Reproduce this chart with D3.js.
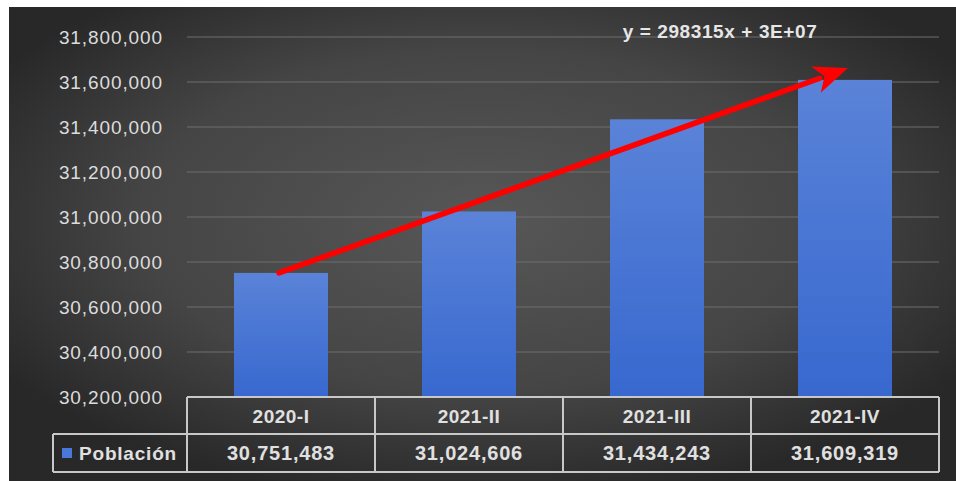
<!DOCTYPE html>
<html>
<head>
<meta charset="utf-8">
<script src="https://cdn.jsdelivr.net/npm/d3@7"></script>
<style>
html,body{margin:0;padding:0;background:#fff;}
svg{display:block;}
</style>
</head>
<body>
<svg id="chart" width="956" height="481"></svg>
<script>
const categories = ["2020-I", "2021-II", "2021-III", "2021-IV"];
const seriesName = "Población";
const values = [30751483, 31024606, 31434243, 31609319];
const yTicks = [30200000, 30400000, 30600000, 30800000, 31000000, 31200000, 31400000, 31600000, 31800000];
const trendStart = {cat: 0, value: 30751483};
const trendEnd = {cat: 3, value: 31662000};
const equationLabel = "y = 298315x + 3E+07";

const svg = d3.select("#chart");
const W = 956, H = 481;
const plot = {left: 187, right: 939, top: 37, bottom: 397};
const font = "'Liberation Sans', Arial, sans-serif";

const defs = svg.append("defs");
const bg = defs.append("radialGradient").attr("id", "bg")
  .attr("cx", "50%").attr("cy", "45%").attr("r", "60%");
bg.append("stop").attr("offset", "0%").attr("stop-color", "#575757");
bg.append("stop").attr("offset", "60%").attr("stop-color", "#454545");
bg.append("stop").attr("offset", "100%").attr("stop-color", "#282828");
const bar = defs.append("linearGradient").attr("id", "bar")
  .attr("x1", 0).attr("y1", 0).attr("x2", 0).attr("y2", 1);
bar.append("stop").attr("offset", "0%").attr("stop-color", "#5a83d8");
bar.append("stop").attr("offset", "100%").attr("stop-color", "#3868cf");

svg.append("rect").attr("x", 9).attr("y", 7).attr("width", W - 9).attr("height", H - 7)
  .attr("fill", "url(#bg)");

const x = d3.scaleBand().domain(categories).range([plot.left, plot.right]).paddingInner(0).paddingOuter(0);
const y = d3.scaleLinear().domain([30200000, 31800000]).range([plot.bottom, plot.top]);

// gridlines
svg.append("g").selectAll("line").data(yTicks).join("line")
  .attr("x1", plot.left).attr("x2", plot.right)
  .attr("y1", d => y(d)).attr("y2", d => y(d))
  .attr("stroke", "#6f6f6f").attr("stroke-width", 1.2);

// y axis labels
const yAxis = d3.axisLeft(y).tickValues(yTicks).tickSize(0).tickPadding(0)
  .tickFormat(d3.format(","));
const ya = svg.append("g").attr("transform", `translate(163,0)`).call(yAxis);
ya.select(".domain").remove();
ya.selectAll("text").attr("fill", "#dcdcdc").style("font-family", font)
  .style("font-size", "19px").style("letter-spacing", "0.9px");

// bars
const bw = x.bandwidth() * 0.5;
svg.append("g").selectAll("rect").data(values).join("rect")
  .attr("x", (d, i) => x(categories[i]) + (x.bandwidth() - bw) / 2)
  .attr("width", bw)
  .attr("y", d => y(d))
  .attr("height", d => y(30200000) - y(d))
  .attr("fill", "url(#bar)");

// trend arrow
const x0 = x(categories[trendStart.cat]) + x.bandwidth() / 2 - 2;
const y0 = y(trendStart.value);
const x1 = x(categories[trendEnd.cat]) + x.bandwidth() / 2 + 3;
const y1 = y(trendEnd.value);
const ang = Math.atan2(y1 - y0, x1 - x0);
const headLen = 34, headW = 14;
const bx = x1 - headLen * Math.cos(ang), by = y1 - headLen * Math.sin(ang);
const px = -Math.sin(ang), py = Math.cos(ang);
svg.append("line").attr("x1", x0).attr("y1", y0).attr("x2", bx + 4 * Math.cos(ang)).attr("y2", by + 4 * Math.sin(ang))
  .attr("stroke", "#ff0000").attr("stroke-width", 5.5).attr("stroke-linecap", "round");
svg.append("path")
  .attr("d", d3.line()([[x1, y1], [bx + headW * px, by + headW * py], [bx + 9 * Math.cos(ang), by + 9 * Math.sin(ang)], [bx - headW * px, by - headW * py]]) + "Z")
  .attr("fill", "#ff0000");

// equation
svg.append("text").attr("x", 720).attr("y", 38).attr("text-anchor", "middle")
  .attr("fill", "#e6e6e6").style("font-family", font).style("font-size", "19px")
  .style("font-weight", "bold").style("letter-spacing", "0.6px").text(equationLabel);

// data table
const rowTop = plot.bottom, rowMid = 434, rowBot = 472, legLeft = 53;
const tbl = svg.append("g").attr("stroke", "#c8c8c8").attr("stroke-width", 2).attr("fill", "none");
tbl.append("line").attr("x1", plot.left).attr("x2", plot.right).attr("y1", rowTop).attr("y2", rowTop);
tbl.append("line").attr("x1", legLeft).attr("x2", plot.right).attr("y1", rowMid).attr("y2", rowMid);
tbl.append("line").attr("x1", legLeft).attr("x2", plot.right).attr("y1", rowBot).attr("y2", rowBot);
tbl.append("line").attr("x1", legLeft).attr("x2", legLeft).attr("y1", rowMid).attr("y2", rowBot);
const bounds = categories.map(c => x(c)).concat([plot.right]);
tbl.selectAll("line.v").data(bounds).join("line").attr("class", "v")
  .attr("x1", d => d).attr("x2", d => d).attr("y1", rowTop).attr("y2", rowBot);

svg.append("g").selectAll("text").data(categories).join("text")
  .attr("x", d => x(d) + x.bandwidth() / 2).attr("y", (rowTop + rowMid) / 2 + 7)
  .attr("text-anchor", "middle").attr("fill", "#e0e0e0")
  .style("font-family", font).style("font-size", "19px").style("font-weight", "bold")
  .style("letter-spacing", "0.5px").text(d => d);
svg.append("g").selectAll("text").data(values).join("text")
  .attr("x", (d, i) => x(categories[i]) + x.bandwidth() / 2).attr("y", (rowMid + rowBot) / 2 + 7)
  .attr("text-anchor", "middle").attr("fill", "#e0e0e0")
  .style("font-family", font).style("font-size", "20px").style("font-weight", "bold")
  .style("letter-spacing", "0.8px").text(d => d3.format(",")(d));

svg.append("rect").attr("x", 62).attr("y", 448).attr("width", 10).attr("height", 10).attr("fill", "#4a78d8");
svg.append("text").attr("x", 79).attr("y", (rowMid + rowBot) / 2 + 7)
  .attr("fill", "#e0e0e0").style("font-family", font).style("font-size", "19px").style("font-weight", "bold")
  .style("letter-spacing", "0.8px").text(seriesName);
</script>
</body>
</html>
